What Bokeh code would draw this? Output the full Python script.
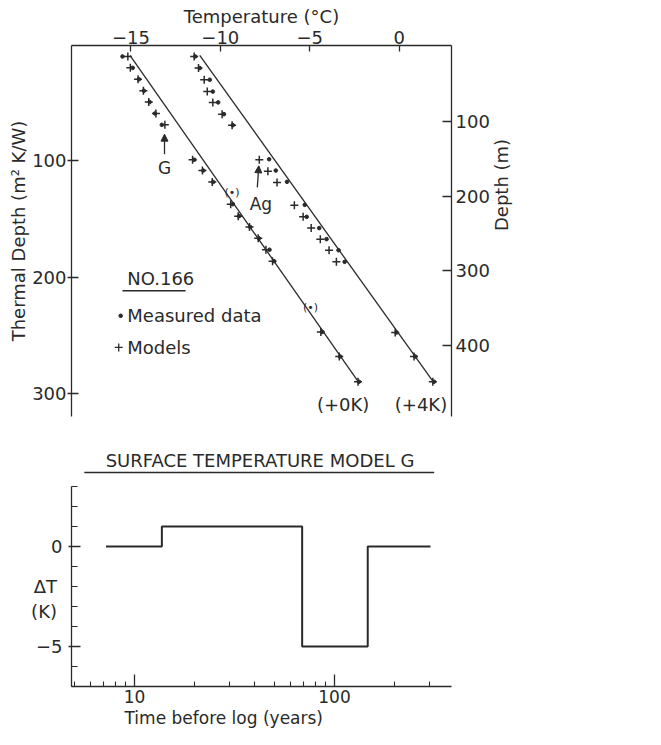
import math
from bokeh.plotting import figure
from bokeh.models import (Range1d, LinearAxis, FixedTicker, Arrow, NormalHead, Title,
                          PrintfTickFormatter, LogScale)
from bokeh.layouts import column
from bokeh.embed import file_html
from bokeh.resources import INLINE
from bokeh.core.properties import value

# ---------------- data: top panel (temperature degC vs thermal depth m2K/W) -------------
temp_ticks = [-15, -10, -5, 0]
thermal_ticks = [100, 200, 300]
depth_ticks = [100, 200, 300, 400]

line_0K_T = [-15.05, -2.29]
line_0K_D = [9.3, 290]
line_4K_T = [-11.15, 1.90]
line_4K_D = [9.3, 290]

g_meas_T = [-15.47, -14.90, -14.55, -14.27, -13.95, -13.65, -13.27, -11.45, -10.95, -10.40,
            -9.30, -8.95, -8.33, -7.84, -7.25, -7.00, -4.30, -3.30, -2.25]
g_meas_D = [10.3, 20.1, 29.9, 39.8, 49.5, 59.3, 69.1, 99.1, 108.4, 118.2,
            137.3, 147.6, 156.9, 166.7, 176.5, 186.3, 247.2, 268.3, 290.0]
g_model_T = [-15.17, -15.03, -14.60, -14.30, -14.00, -13.60, -13.10, -11.55, -11.00, -10.45,
             -9.42, -9.00, -8.37, -7.88, -7.45, -7.08, -4.38, -3.35, -2.30]
g_model_D = [10.3, 20.1, 29.9, 39.8, 49.5, 59.3, 69.1, 99.1, 108.4, 118.2,
             137.3, 147.6, 156.9, 166.7, 176.5, 186.3, 247.2, 268.3, 290.0]
g_bracket_T = [-9.35, -4.96]
g_bracket_D = [126.9, 226.0]

ag_meas_T = [-11.40, -11.15, -10.59, -10.42, -10.12, -9.80, -9.30, -7.27, -6.90, -6.27,
             -5.28, -5.17, -4.47, -4.06, -3.39, -3.05, -0.15, 0.90, 1.95]
ag_meas_D = [10.3, 20.3, 30.3, 40.5, 49.8, 59.9, 69.4, 98.7, 108.4, 118.1,
             137.9, 148.2, 157.9, 167.4, 176.9, 186.9, 247.7, 268.3, 290.0]
ag_model_T = [-11.46, -11.22, -10.90, -10.73, -10.42, -9.90, -9.34, -7.82, -7.34, -6.83,
              -5.86, -5.37, -4.92, -4.41, -3.92, -3.51, -0.22, 0.83, 1.88]
ag_model_D = [10.3, 20.3, 30.3, 40.5, 49.8, 59.9, 69.4, 99.1, 108.9, 118.7,
              138.2, 148.2, 157.9, 167.4, 176.9, 186.9, 247.7, 268.3, 290.0]

# ---------------- data: bottom panel (surface temperature model G) ----------------------
step_time = [7.2, 13.7, 68.9, 146.6, 302]
step_dT = [0, 1, -5, 0, 0]
dT_major = [-5, 0]
dT_minor = [-7, -6, -5, -4, -3, -2, -1, 0, 1, 2, 3]
time_major = [10, 100]
time_minor = [5, 6, 7, 8, 9, 20, 30, 40, 50, 60, 70, 80, 90, 200, 300]

# ---------------- style -----------------------------------------------------------------
FONT = "DejaVu Sans"
INK = "#2a2a2a"
BG = "#ffffff"
FS = "18px"


def style_axis(ax, fs=FS):
    ax.axis_line_color = INK
    ax.axis_line_width = 1.3
    ax.major_tick_line_color = INK
    ax.major_tick_line_width = 1.3
    ax.minor_tick_line_color = INK
    ax.minor_tick_line_width = 1.1
    ax.major_label_text_font = FONT
    ax.major_label_text_font_size = fs
    ax.major_label_text_color = INK
    ax.axis_label_text_font = FONT
    ax.axis_label_text_font_size = fs
    ax.axis_label_text_font_style = "normal"
    ax.axis_label_text_color = INK


def txt(fig, x, y, s, size=FS, align="center", baseline="middle"):
    fig.text(x=[x], y=[y], text=[s], text_font=value(FONT), text_font_size=size,
             text_align=align, text_baseline=baseline, text_color=INK)


def try_set(obj, name, val):
    try:
        setattr(obj, name, val)
    except Exception:
        pass


def make_fig(**kw):
    f = figure(output_backend="svg", toolbar_location=None, border_fill_color=BG,
               background_fill_color=BG, outline_line_color=None, **kw)
    f.grid.visible = False
    return f


# ---------------- top figure ------------------------------------------------------------
top = make_fig(width=645, height=420, x_range=Range1d(-18.32, 2.925), y_range=Range1d(319.9, 0.86),
               x_axis_location="above",
               min_border_left=65, min_border_right=68, min_border_top=45, min_border_bottom=4)

style_axis(top.xaxis[0])
top.xaxis.ticker = FixedTicker(ticks=temp_ticks)
top.xaxis.major_tick_in = 6
top.xaxis.major_tick_out = 0
top.xaxis.minor_tick_in = 0
top.xaxis.minor_tick_out = 0
top.xaxis.major_label_standoff = 2
top.xaxis.axis_label = "Temperature (\u00b0C)"
top.xaxis.axis_label_standoff = 1

style_axis(top.yaxis[0])
top.yaxis.ticker = FixedTicker(ticks=thermal_ticks)
top.yaxis.major_tick_in = 7
top.yaxis.major_tick_out = 4
top.yaxis.minor_tick_in = 0
top.yaxis.minor_tick_out = 0
top.yaxis.major_label_standoff = 1
top.yaxis.axis_label = "Thermal Depth (m\u00b2 K/W)"
top.yaxis.axis_label_standoff = 0

top.extra_y_ranges = {"depth": Range1d(495.6, -2.4)}
raxis = LinearAxis(y_range_name="depth", ticker=FixedTicker(ticks=depth_ticks))
style_axis(raxis)
raxis.major_tick_in = 9
raxis.major_tick_out = 0
raxis.minor_tick_in = 0
raxis.minor_tick_out = 0
raxis.major_label_standoff = 4
raxis.axis_label = "Depth (m)"
raxis.axis_label_standoff = 9
try_set(raxis, "axis_label_orientation", math.pi / 2)
top.add_layout(raxis, "right")

top.line(line_0K_T, line_0K_D, line_color=INK, line_width=1.3)
top.line(line_4K_T, line_4K_D, line_color=INK, line_width=1.3)

for mx, my in ((g_model_T, g_model_D), (ag_model_T, ag_model_D)):
    top.scatter(mx, my, marker="cross", size=8, line_color=INK, line_width=1.5)
for dx, dy in ((g_meas_T, g_meas_D), (ag_meas_T, ag_meas_D)):
    top.scatter(dx, dy, marker="circle", size=3.6, fill_color=INK, line_color=INK)
top.text(x=g_bracket_T, y=g_bracket_D, text=["(\u2022)"] * len(g_bracket_T), text_font=value(FONT),
         text_font_size="11px", text_align="center", text_baseline="middle", text_color=INK)

# model labels + arrows
txt(top, -13.12, 105.8, "G", size="17px")
top.add_layout(Arrow(end=NormalHead(size=7, fill_color=INK, line_color=INK),
                     x_start=-13.12, y_start=94.3, x_end=-13.12, y_end=77.1,
                     line_color=INK, line_width=1.3))
txt(top, -7.73, 137.3, "Ag", size="17px")
top.add_layout(Arrow(end=NormalHead(size=7, fill_color=INK, line_color=INK),
                     x_start=-7.93, y_start=122.9, x_end=-7.85, y_end=104.3,
                     line_color=INK, line_width=1.3))

# legend block
txt(top, -15.2, 201.2, "NO.166", align="left")
top.segment(x0=[-15.47], y0=[211.8], x1=[-11.94], y1=[211.8], line_color=INK, line_width=1.5)
top.scatter([-15.57], [233.3], marker="circle", size=3.6, fill_color=INK, line_color=INK)
txt(top, -15.2, 233.3, "Measured data", align="left")
top.scatter([-15.68], [260.5], marker="cross", size=8, line_color=INK, line_width=1.3)
txt(top, -15.2, 260.5, "Models", align="left")

txt(top, -3.13, 309.3, "(+0K)")
txt(top, 1.22, 309.3, "(+4K)")

# ---------------- title strip of the lower panel (same x mapping as lower panel) --------
mid = make_fig(width=645, height=60, x_range=Range1d(4.84, 384.6), y_range=Range1d(3.3, 6.3),
               min_border_left=71, min_border_right=194, min_border_top=0, min_border_bottom=0,
               x_axis_type=None, y_axis_type=None)
mid.x_scale = LogScale()
txt(mid, 42.4, 4.3, "SURFACE TEMPERATURE MODEL G")
mid.segment(x0=[5.61], y0=[3.7], x1=[315.1], y1=[3.7], line_color=INK, line_width=1.5)

# ---------------- bottom figure ---------------------------------------------------------
bot = make_fig(width=645, height=249, x_axis_type="log", x_range=Range1d(4.84, 384.6),
               y_range=Range1d(-7, 3),
               min_border_left=71, min_border_right=194, min_border_top=6, min_border_bottom=43)

style_axis(bot.xaxis[0], fs="17px")
bot.xaxis.ticker = FixedTicker(ticks=time_major, minor_ticks=time_minor)
bot.xaxis.formatter = PrintfTickFormatter(format="%d")
bot.xaxis.major_tick_in = 12
bot.xaxis.major_tick_out = 0
bot.xaxis.minor_tick_in = 5
bot.xaxis.minor_tick_out = 0
bot.xaxis.major_label_standoff = 3

style_axis(bot.yaxis[0])
bot.yaxis.ticker = FixedTicker(ticks=dT_major, minor_ticks=dT_minor)
bot.yaxis.major_tick_in = 9
bot.yaxis.major_tick_out = 3
bot.yaxis.minor_tick_in = 6
bot.yaxis.minor_tick_out = 0
bot.yaxis.major_label_standoff = 6
bot.yaxis.axis_label = "\u00a0\n\u0394T\n(K)"
bot.yaxis.axis_label_standoff = -24
try_set(bot.yaxis[0], "axis_label_orientation", "horizontal")

bot.step(step_time, step_dT, mode="after", line_color=INK, line_width=2)

bot.add_layout(Title(text="Time before log (years)", align="left", offset=53, standoff=0,
                     text_font=FONT, text_font_size="17px", text_font_style="normal",
                     text_color=INK), "below")

layout = column(top, mid, bot)
open("out.html", "w").write(file_html(layout, INLINE))
